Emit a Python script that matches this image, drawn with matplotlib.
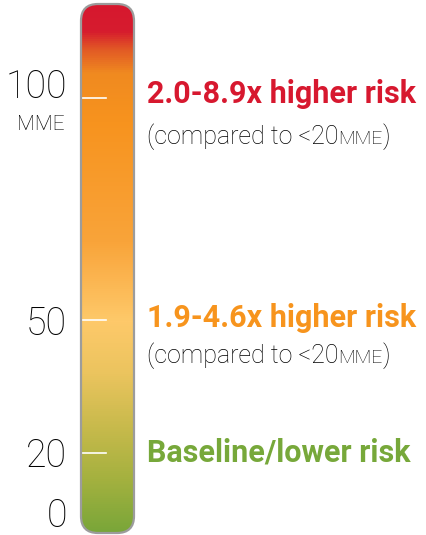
import numpy as np
import matplotlib
matplotlib.use('Agg')
import matplotlib.pyplot as plt
from matplotlib.colors import LinearSegmentedColormap
from matplotlib.patches import FancyBboxPatch

# scale labels and their baselines on the bar (pixel rows, top = 0)
tick_values = ['100', '50', '20', '0']
tick_baselines = [98, 335, 467, 527]
tick_marks = [98, 320, 453]

# gradient stops, top of the bar to bottom
stop_pos = [0.0, 0.05, 0.085, 0.13, 0.22, 0.45, 0.6, 0.7, 0.8, 0.9, 1.0]
stop_colors = ['#d7182f', '#d61c2e', '#e25a25', '#f08a20', '#f7931e', '#f9a43a',
               '#fec96a', '#ebc45e', '#c8ba4c', '#a4b13f', '#79a639']

risk_labels = ['2.0-8.9x higher risk', '1.9-4.6x higher risk', 'Baseline/lower risk']
risk_colors = ['#d7182f', '#f7941d', '#77a83a']
risk_baselines = [103, 327, 462]
sub_baselines = [144, 363]

plt.rcParams['font.family'] = ['Roboto', 'DejaVu Sans']

fig = plt.figure(figsize=(4.27, 5.35), dpi=100)
ax = fig.add_axes([0, 0, 1, 1])
ax.set_xlim(0, 427)
ax.set_ylim(535, 0)
ax.axis('off')

x0, x1, y0, y1 = 81, 134, 4, 533
cmap = LinearSegmentedColormap.from_list('risk', list(zip(stop_pos, stop_colors)))
grad = np.linspace(0, 1, 512).reshape(-1, 1)
img = ax.imshow(grad, cmap=cmap, extent=[x0, x1, y1, y0], aspect='auto', zorder=1)
box = FancyBboxPatch((x0, y0), x1 - x0, y1 - y0,
                     boxstyle='round,pad=0,rounding_size=17',
                     facecolor='none', edgecolor='#9c9c9c', linewidth=1.6, zorder=3)
ax.add_patch(box)
img.set_clip_path(box)

for r in tick_marks:
    ax.plot([82, 106], [r, r], color='white', linewidth=1.2, zorder=2)

for lab, r in zip(tick_values, tick_baselines):
    ax.text(67, r, lab, ha='right', va='baseline', fontsize=27, fontweight='light',
            color='black')
ax.text(65, 130, 'MME', ha='right', va='baseline', fontsize=15, fontweight='light',
        color='black')

for lab, c, r in zip(risk_labels, risk_colors, risk_baselines):
    ax.text(147, r, lab, ha='left', va='baseline', fontsize=22, fontweight='bold', color=c)

for r in sub_baselines:
    t = ax.text(147, r, '(compared to <20', ha='left', va='baseline', fontsize=18,
                fontweight='light', color='black')
    fig.canvas.draw()
    xr = ax.transData.inverted().transform((t.get_window_extent().x1, 0))[0]
    t2 = ax.text(xr, r, 'MME', ha='left', va='baseline', fontsize=14,
                 fontweight='light', color='black')
    fig.canvas.draw()
    xr2 = ax.transData.inverted().transform((t2.get_window_extent().x1, 0))[0]
    ax.text(xr2, r, ')', ha='left', va='baseline', fontsize=18,
            fontweight='light', color='black')

fig.savefig('out.png', dpi=100, facecolor='white')
